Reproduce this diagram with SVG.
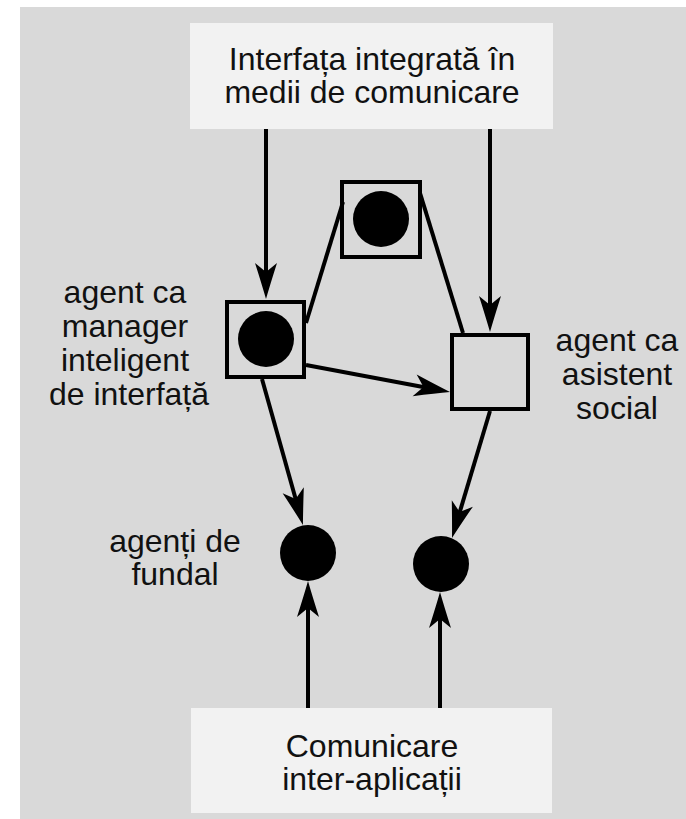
<svg xmlns="http://www.w3.org/2000/svg" width="686" height="819" viewBox="0 0 686 819">
<style>
.bg{fill:#d9d9d9}
.box{fill:#f2f2f2}
.sq{fill:none;stroke:#000;stroke-width:4}
.dot{fill:#000}
.ln{stroke:#000;stroke-width:4;fill:none}
text{font-family:"Liberation Sans",Arial,sans-serif;font-size:32px;fill:#111;text-anchor:middle}
</style>
<defs>
<marker id="ah" markerUnits="userSpaceOnUse" markerWidth="40" markerHeight="30" refX="-22" refY="0" orient="auto" overflow="visible">
<path d="M0,0 Q-14,-4 -36,-11 L-27,0 L-36,11 Q-14,4 0,0 Z" fill="#000"/>
</marker>
</defs>
<rect class="bg" x="20" y="7" width="666" height="812"/>
<g id="top">
<rect class="box" x="190" y="23" width="363" height="106"/>
<text x="372" y="70"><tspan x="372" y="70">Interfața integrată în</tspan><tspan x="372" y="103">medii de comunicare</tspan></text>
</g>
<g id="bottom">
<rect class="box" x="191" y="708" width="361" height="105"/>
<text x="372" y="757"><tspan x="372" y="757">Comunicare</tspan><tspan x="372" y="790">inter-aplicații</tspan></text>
</g>
<g id="center-agent">
<rect class="sq" x="342" y="182" width="78" height="75"/>
<circle class="dot" cx="381" cy="219" r="28"/>
</g>
<g id="manager">
<rect class="sq" x="227" y="302" width="77" height="75"/>
<circle class="dot" cx="266" cy="339" r="28"/>
<text x="125" y="303"><tspan x="125" y="303">agent ca</tspan><tspan x="125" y="337">manager</tspan><tspan x="125" y="371">inteligent</tspan><tspan x="129" y="405">de interfață</tspan></text>
</g>
<g id="asistent">
<rect class="sq" x="452" y="335" width="76" height="74"/>
<text x="617" y="351"><tspan x="617" y="351">agent ca</tspan><tspan x="617" y="385">asistent</tspan><tspan x="617" y="419">social</tspan></text>
</g>
<g id="fundal1">
<circle class="dot" cx="308" cy="553" r="28"/>
<text x="175" y="552"><tspan x="175" y="552">agenți de</tspan><tspan x="175" y="585">fundal</tspan></text>
</g>
<g id="fundal2">
<circle class="dot" cx="441" cy="564" r="28"/>
</g>
<g id="connectors">
<line class="ln" x1="266" y1="129" x2="266" y2="277" marker-end="url(#ah)"/>
<line class="ln" x1="490" y1="129" x2="490" y2="310" marker-end="url(#ah)"/>
<line class="ln" x1="306" y1="323" x2="343" y2="202"/>
<line class="ln" x1="420" y1="193" x2="463" y2="333"/>
<line class="ln" x1="306" y1="365" x2="428.4" y2="388" marker-end="url(#ah)"/>
<line class="ln" x1="262" y1="379" x2="297" y2="503.8" marker-end="url(#ah)"/>
<line class="ln" x1="490" y1="411" x2="458.3" y2="516.9" marker-end="url(#ah)"/>
<line class="ln" x1="308" y1="708" x2="308" y2="603" marker-end="url(#ah)"/>
<line class="ln" x1="440" y1="708" x2="440" y2="614" marker-end="url(#ah)"/>
</g>
</svg>
